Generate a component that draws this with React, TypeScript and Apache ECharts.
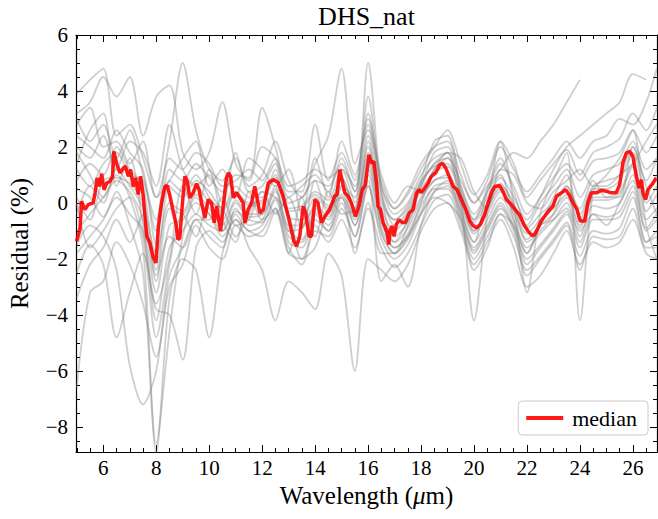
import React, { useEffect, useRef } from 'react';
import * as echarts from 'echarts';

const FONT = '"Liberation Serif", "Times New Roman", "DejaVu Serif", serif';

const TITLE = 'DHS_nat';
const X_MIN = 4.97;
const X_MAX = 26.91;
const Y_MIN = -8.9;
const Y_MAX = 6;
const X_MAJOR = [6, 8, 10, 12, 14, 16, 18, 20, 22, 24, 26];
const X_MINOR = [5, 5.5, 6, 6.5, 7, 7.5, 8, 8.5, 9, 9.5, 10, 10.5, 11, 11.5, 12, 12.5, 13, 13.5, 14, 14.5, 15, 15.5, 16, 16.5, 17, 17.5, 18, 18.5, 19, 19.5, 20, 20.5, 21, 21.5, 22, 22.5, 23, 23.5, 24, 24.5, 25, 25.5, 26, 26.5];
const Y_MAJOR = [-8, -6, -4, -2, 0, 2, 4, 6];
const Y_MINOR = [-8.5, -8, -7.5, -7, -6.5, -6, -5.5, -5, -4.5, -4, -3.5, -3, -2.5, -2, -1.5, -1, -0.5, 0, 0.5, 1, 1.5, 2, 2.5, 3, 3.5, 4, 4.5, 5, 5.5, 6];

// common wavelength grid of the individual residual curves
const GRAY_X = [5, 5.5, 6, 6.5, 7, 7.5, 8, 8.5, 9, 9.5, 10, 10.5, 11, 11.5, 12, 12.5, 13, 13.5, 14, 14.5, 15, 15.5, 16, 16.5, 17, 17.5, 18, 18.5, 19, 19.5, 20, 20.5, 21, 21.5, 22, 22.5, 23, 23.5, 24, 24.5, 25, 25.5, 26, 26.5, 26.9];

const grayA = [-6.6, -3.2, -2.8, -1.4, -2.2, -3.6, -5.5, -3.0, -2.2, -0.8, -1.6, -2.0, -0.8, -1.2, -1.0, -0.2, -1.6, -2.2, -1.0, -1.2, -0.2, -1.2, 0.6, -1.3, -2.0, -1.5, -0.4, 0.4, 0.6, -0.5, -1.7, -0.9, -0.1, -0.9, -2.0, -1.5, -0.9, -0.3, -1.4, -0.4, -0.5, -0.3, 0.6, -0.9, -0.4];
const grayB = [3.9, 4.4, 4.8, 2.4, 2.8, 1.6, 0.2, 2.2, 5.0, 2.6, 1.2, 0.8, 1.6, 0.6, 1.0, 2.2, 0.8, 0.2, 1.4, 2.4, 4.8, 1.4, 2.6, 0.8, -0.2, 0.4, 1.4, 2.0, 2.2, 1.0, 0.0, 0.8, 2.0, 1.2, 0.4, 1.0, 1.6, 2.2, 1.6, 2.2, 2.4, 3.0, 2.8, 3.6, 4.8];
const grayC = [3.2, 3.6, 4.5, 3.8, 4.5, 2.4, 3.8, 4.2, 1.8, 1.2, 1.8, 3.6, 1.4, 0.8, 2.0, 1.6, 0.2, 0.6, 1.0, 0.4, 1.6, 0.4, 3.8, 0.6, -0.4, 0.0, 1.0, 1.6, 1.8, 0.6, -0.4, 0.4, 1.4, 0.6, -0.4, 0.2, 0.9, 1.4, 0.8, 1.5, 1.6, 1.8, 2.6, 1.8, 2.4];
const grayD = [-2.5, -1.5, -2.2, -4.8, -3.2, -1.8, -3.8, -4.0, -5.6, -1.6, -1.0, -1.4, -0.4, -1.0, -0.8, 0.2, -1.4, -1.6, -0.6, -1.0, 0.2, -0.8, 1.0, -0.9, -1.6, -1.1, -0.1, 0.6, 0.7, -0.3, -1.4, -0.6, 0.2, -0.6, -1.6, -1.1, -0.6, 0.0, -1.2, -0.1, -0.2, 0.0, 1.0, -0.6, -0.2];
const grayE = [-1.5, -0.8, -1.2, -2.4, -5.8, -7.2, -6.0, -2.6, -1.6, -0.6, -1.2, -1.6, -0.2, -0.8, -0.6, 0.4, -1.0, -1.3, -0.3, -0.8, 0.3, -0.6, 1.2, -0.7, -1.4, -0.9, 0.1, 0.8, 0.9, -0.1, -1.1, -0.4, 0.4, -0.4, -1.3, -0.8, -0.4, 0.2, -0.9, 0.1, 0.1, 0.3, 1.3, -0.3, 0.3];
const grayF = [0.5, 0.2, -0.5, 0.4, -0.8, -2.5, -8.9, -3.4, -2.0, -2.4, -4.8, -1.8, -0.6, -1.0, -1.2, -0.3, -1.8, -2.0, -0.8, -1.4, -0.6, -1.6, -0.2, -1.6, -2.3, -1.8, -0.8, 0.1, 0.3, -0.8, -2.0, -1.2, -0.4, -1.2, -2.4, -1.9, -1.3, -0.7, -1.9, -1.0, -1.1, -0.9, 0.2, -1.4, -1.0];
const grayG = [1.8, 1.0, 0.2, 1.0, 0.2, -1.6, -8.6, -4.6, -1.2, 0.2, -0.4, -1.0, 0.0, -0.5, -0.4, 0.6, -0.8, -0.8, -0.1, -0.5, 0.6, -0.5, 1.4, -0.5, -1.2, -0.7, 0.2, 0.8, 1.0, 0.0, -1.0, -0.2, 0.5, -0.3, -1.1, -0.6, -0.2, 0.3, -0.8, 0.2, 0.2, 0.4, 1.4, 0.0, 0.6];
const grayH = [2.4, 2.0, 1.6, 2.6, 1.8, 1.2, -1.5, 1.2, 0.8, 1.4, 0.9, 0.4, 1.0, 0.9, 3.4, 2.0, 0.4, 0.4, 2.8, 0.8, 1.8, 0.8, 3.2, 0.6, -0.2, 0.3, 1.2, 2.0, 2.6, 1.4, 0.3, 1.0, 2.2, 1.4, 0.2, 0.8, 1.4, 1.9, 1.0, 1.8, 2.0, 2.3, 3.2, 2.6, 3.4];
const grayI = [-1.0, -0.4, 0.2, 0.8, 0.4, -0.6, -3.2, -0.8, -0.6, 0.0, -0.4, -1.2, -0.6, -1.6, -2.4, -4.2, -2.8, -3.2, -3.8, -1.8, -2.6, -6.0, -2.0, -2.4, -2.8, -2.2, -1.0, -0.2, 0.0, -1.0, -2.2, -1.4, -0.6, -1.6, -3.0, -2.6, -1.8, -1.0, -2.2, -1.4, -1.6, -1.4, -0.6, -1.8, -2.0];
const grayJ = [0.8, 1.4, 1.0, 2.0, 1.2, 0.6, -2.4, 0.6, 0.2, 0.8, 0.4, -0.2, 0.6, 0.2, 0.2, 1.2, -0.2, -0.1, 0.4, 0.1, 1.2, 0.0, 5.0, 0.4, -1.4, -0.6, 0.8, 2.2, 2.4, 0.2, -4.2, -0.4, 2.2, 0.0, -3.2, -0.4, 0.8, 1.8, -4.2, 0.4, 1.0, 1.6, 2.6, -0.8, -2.0];
const grayK = [1.2, 0.6, 1.4, 1.8, 1.0, 0.8, -1.0, 0.8, 0.4, 1.0, 0.2, -0.3, 0.4, 0.0, 0.1, 1.0, -0.3, -0.2, 0.3, -0.1, 0.9, -0.2, 2.0, 0.0, -0.6, -0.2, 0.7, 1.4, 1.6, 0.8, 0.0, 0.6, 1.2, 1.8, 1.6, 2.2, 2.8, 3.6, 4.4, null, null, null, null, null, null];
const grayL = [2.0, 1.6, 2.4, 1.2, 2.2, 1.8, 0.6, 2.8, 1.2, 0.6, 1.0, 0.0, 1.8, 0.4, 0.6, 1.4, 0.0, 0.2, 0.8, 0.6, 1.4, 0.4, 2.4, 0.2, -0.6, -0.1, 0.8, 1.3, 1.4, 0.4, -0.6, 0.2, 0.9, 0.2, -0.6, 0.2, 1.2, 2.0, 2.4, 2.8, 3.2, 3.6, 4.6, 4.4, null];
const grayM = [-0.4, 0.6, 0.0, 1.2, 0.6, -0.2, -2.8, -0.2, -0.4, 0.3, -0.2, -0.8, 0.1, -0.4, -0.4, 0.5, -1.0, -0.9, -0.2, -0.6, 0.5, -0.8, 0.8, -2.8, -2.2, -3.0, -0.8, 0.4, 0.8, -0.4, -1.6, -0.8, 0.0, -0.8, -2.2, -1.6, -1.0, -0.4, -1.6, -0.6, -0.6, -0.5, 0.4, -1.4, -1.2];
const grayN = [0.2, -0.6, 0.8, 0.9, 0.7, 0.0, -1.8, 0.0, -0.3, 0.6, 0.0, -0.6, 0.4, -0.1, 0.0, 0.9, -0.5, -0.6, 0.2, -0.2, 0.9, -0.3, 1.8, -0.2, -1.0, -0.4, 0.5, 1.1, 1.3, 0.3, -0.7, 0.0, 0.7, -0.1, -0.9, -0.4, 0.0, 0.6, -0.4, 0.5, 0.5, 0.8, 1.8, 0.4, 1.0];
const grayO = [3.0, 2.2, 2.8, 1.6, 2.6, 1.0, -0.6, 1.6, 1.2, 1.8, 1.4, 0.6, 0.8, 1.2, 0.8, 1.6, 0.6, 0.8, 1.2, 0.9, 1.2, 0.6, 2.8, 0.4, -0.8, -0.3, 0.6, 1.8, 2.0, 0.6, -0.6, 0.5, 1.6, 0.4, -0.8, 0.0, 0.6, 1.2, 0.2, 1.0, 1.2, 1.4, 2.2, 1.2, 1.6];
const grayP = [-1.8, -1.2, -0.6, 0.2, -0.4, -1.0, -4.2, -1.6, -1.0, -0.4, -0.8, -1.0, -0.3, -0.6, -0.7, 0.1, -1.2, -1.4, -0.4, -1.0, 0.0, -1.2, 0.6, -1.1, -1.8, -1.3, -0.3, 0.5, 0.5, -0.6, -1.8, -1.0, -0.2, -1.0, -2.6, -2.0, -1.4, -0.8, -2.4, -1.2, -1.3, -1.2, -0.2, -1.6, -1.6];
const grayQ = [2.8, 3.4, 2.0, 2.2, 1.4, 2.2, 0.2, 0.8, 1.6, 2.2, 0.6, 1.2, 0.2, 1.6, 1.2, 0.6, 1.2, -0.4, 1.6, 0.2, 2.2, 1.0, 3.0, 1.0, 0.0, 0.6, 0.4, 1.2, 1.8, 1.6, 0.4, -0.2, 1.2, 1.0, 0.0, -0.2, 0.4, 0.8, 1.2, 0.6, 0.6, 1.0, 1.4, 2.2, 2.8];
const grayR = [1.4, 2.6, 3.2, 0.6, 1.6, -0.8, -3.6, -2.0, 0.6, -0.4, 1.2, -0.6, -1.4, 0.4, -0.6, -0.2, -1.8, 0.2, -1.2, 0.4, -0.4, -0.2, 1.6, -0.6, -1.6, -1.2, 0.0, 1.2, 1.6, 0.4, -1.0, -0.2, 0.6, 0.0, -1.4, -1.0, -0.4, 0.6, -0.2, 0.8, 0.2, 0.2, 2.0, 0.6, -0.4];
const grayS = [0.0, -1.6, -1.0, -0.2, 0.2, -1.2, -4.8, -2.2, -0.4, -1.2, 0.0, -0.2, -1.2, -0.4, 0.4, -0.4, 0.2, -0.9, 0.8, -0.4, 0.6, 0.2, 2.2, -1.0, -1.8, -0.8, 0.6, 1.4, 1.8, -0.2, -1.4, 0.4, 1.0, -0.6, -1.8, -0.8, 0.2, 1.0, -0.6, 0.6, 0.8, 1.0, 2.0, 0.8, 1.6];
const grayT = [-3.4, -2.2, -1.6, -0.6, -1.4, -0.4, -2.6, -1.2, -1.6, -0.6, -0.6, 0.2, -0.8, -0.6, 0.4, 0.2, -0.4, -2.0, -1.6, -0.2, 0.2, -1.8, 0.0, -1.8, -1.8, -1.2, -0.4, 0.2, 0.0, -0.6, -2.4, -1.6, -0.4, -0.8, -1.8, -0.8, -0.6, -0.2, -1.0, -0.4, -0.8, 0.0, 0.8, -1.0, -0.6];

const GRAY_LINES = [grayA, grayB, grayC, grayD, grayE, grayF, grayG, grayH, grayI, grayJ, grayK, grayL, grayM, grayN, grayO, grayP, grayQ, grayR, grayS, grayT];

// median residual
const MED_X = [4.99, 5.12, 5.18, 5.31, 5.43, 5.62, 5.69, 5.77, 5.85, 5.94, 6.03, 6.13, 6.25, 6.35, 6.40, 6.50, 6.63, 6.76, 6.84, 6.94, 7.03, 7.13, 7.22, 7.32, 7.41, 7.51, 7.64, 7.76, 7.89, 7.99, 8.08, 8.2, 8.33, 8.42, 8.52, 8.64, 8.74, 8.82, 8.89, 8.98, 9.08, 9.17, 9.27, 9.4, 9.52, 9.62, 9.71, 9.84, 9.96, 10.09, 10.19, 10.28, 10.43, 10.53, 10.65, 10.73, 10.81, 10.91, 11.03, 11.16, 11.28, 11.35, 11.47, 11.6, 11.72, 11.82, 11.91, 12.04, 12.23, 12.42, 12.6, 12.79, 12.92, 13.04, 13.2, 13.3, 13.42, 13.55, 13.64, 13.77, 13.86, 13.99, 14.11, 14.24, 14.37, 14.55, 14.74, 14.83, 14.93, 15.12, 15.25, 15.37, 15.52, 15.65, 15.78, 15.9, 16.03, 16.13, 16.22, 16.32, 16.38, 16.47, 16.57, 16.63, 16.72, 16.78, 16.84, 16.91, 16.98, 17.07, 17.17, 17.3, 17.42, 17.55, 17.7, 17.83, 17.93, 18.01, 18.14, 18.27, 18.39, 18.55, 18.71, 18.81, 18.93, 19.06, 19.21, 19.36, 19.52, 19.69, 19.84, 19.96, 20.09, 20.24, 20.4, 20.53, 20.66, 20.78, 20.97, 21.12, 21.22, 21.41, 21.6, 21.72, 21.88, 22.04, 22.19, 22.29, 22.42, 22.54, 22.71, 22.86, 22.98, 23.11, 23.3, 23.46, 23.59, 23.74, 23.89, 24.01, 24.18, 24.3, 24.43, 24.62, 24.81, 24.99, 25.18, 25.37, 25.5, 25.62, 25.75, 25.88, 26.0, 26.13, 26.23, 26.32, 26.38, 26.48, 26.57, 26.66, 26.76, 26.88];
const MED_Y = [-1.37, -0.95, 0.06, -0.24, -0.06, 0.0, 0.36, 0.89, 0.59, 1.04, 0.47, 0.71, 0.77, 0.95, 1.84, 1.42, 1.07, 1.25, 1.31, 0.95, 1.19, 0.59, 0.89, 0.3, 0.95, 0.24, -1.19, -1.43, -1.96, -2.14, -0.83, 0.0, 0.59, 0.62, 0.24, -0.3, -0.71, -1.31, -1.25, -0.12, 0.95, 0.77, 0.18, 0.36, 0.69, 0.47, 0.0, -0.54, 0.12, 0.0, -0.71, -0.12, -1.01, -0.12, 0.89, 1.07, 0.95, 0.18, 0.36, 0.18, 0.0, -0.71, -0.24, 0.0, 0.59, 0.12, -0.36, -0.24, 0.71, 0.83, 0.73, 0.24, -0.24, -0.71, -1.37, -1.55, -1.19, -0.12, -0.36, -1.19, -1.19, 0.12, 0.0, -0.71, -0.48, -0.24, 0.24, 0.3, 1.19, 0.36, 0.24, 0.0, -0.48, -0.12, 0.47, 0.65, 1.72, 1.42, 1.48, 0.71, -0.12, -0.24, -0.71, -0.83, -1.07, -1.49, -0.95, -0.83, -1.19, -0.77, -0.6, -0.71, -0.69, -0.36, -0.24, 0.36, 0.47, 0.36, 0.53, 0.71, 0.95, 1.07, 1.36, 1.42, 1.25, 0.95, 0.59, 0.47, 0.12, -0.24, -0.65, -0.81, -0.89, -0.77, -0.42, 0.0, 0.36, 0.59, 0.62, 0.36, 0.12, -0.06, -0.3, -0.42, -0.77, -1.01, -1.17, -1.13, -0.89, -0.65, -0.42, -0.24, -0.12, 0.24, 0.36, 0.47, 0.3, 0.0, -0.24, -0.65, -0.65, 0.0, 0.36, 0.36, 0.45, 0.42, 0.36, 0.36, 0.65, 1.42, 1.78, 1.84, 1.66, 0.95, 0.53, 0.83, 0.36, 0.12, 0.47, 0.59, 0.71, 0.89];

const fmt = (v: number) => (v < 0 ? '\u2212' + Math.abs(v) : String(v));

function xAxisDef(position: 'bottom' | 'top', major: boolean, labels: boolean) {
  return {
    type: 'value',
    position,
    min: X_MIN,
    max: X_MAX,
    axisLine: { show: major, onZero: false, lineStyle: { color: '#000', width: 1.2 } },
    axisTick: {
      show: true,
      inside: true,
      length: major ? 7 : 4,
      customValues: major ? X_MAJOR : X_MINOR,
      lineStyle: { color: '#000', width: 1 },
    },
    axisLabel: {
      show: labels,
      customValues: X_MAJOR,
      formatter: fmt,
      color: '#000',
      fontFamily: FONT,
      fontSize: 21,
      margin: 5,
    },
    splitLine: { show: false },
    ...(labels
      ? {
          name: '{a|Wavelength (}{b|\u03bc}{a|m)}',
          nameLocation: 'middle',
          nameGap: 22,
          nameTextStyle: {
            verticalAlign: 'top',
            rich: {
              a: { fontFamily: FONT, fontSize: 25, color: '#000' },
              b: { fontFamily: FONT, fontSize: 25, color: '#000', fontStyle: 'italic' },
            },
          },
        }
      : {}),
  };
}

function yAxisDef(position: 'left' | 'right', major: boolean, labels: boolean) {
  return {
    type: 'value',
    position,
    min: Y_MIN,
    max: Y_MAX,
    axisLine: { show: major, onZero: false, lineStyle: { color: '#000', width: 1.2 } },
    axisTick: {
      show: true,
      inside: true,
      length: major ? 7 : 4,
      customValues: major ? Y_MAJOR : Y_MINOR,
      lineStyle: { color: '#000', width: 1 },
    },
    axisLabel: {
      show: labels,
      customValues: Y_MAJOR,
      formatter: fmt,
      color: '#000',
      fontFamily: FONT,
      fontSize: 21,
      margin: 8,
    },
    splitLine: { show: false },
    ...(labels
      ? {
          name: 'Residual (%)',
          nameLocation: 'middle',
          nameGap: 44,
          nameTextStyle: { fontFamily: FONT, fontSize: 25, color: '#000' },
        }
      : {}),
  };
}

export default function App() {
  const ref = useRef<HTMLDivElement>(null);
  useEffect(() => {
    if (!ref.current) return;
    const chart = echarts.init(ref.current, undefined, { renderer: 'svg' });
    const graySeries = GRAY_LINES.map((ys, i) => ({
      type: 'line',
      name: 'curve' + i,
      data: GRAY_X.map((x, j) => [x, ys[j]]).filter((p) => p[1] !== null),
      xAxisIndex: 0,
      yAxisIndex: 0,
      symbol: 'none',
      showSymbol: false,
      silent: true,
      smooth: 0.3,
      lineStyle: { color: 'rgba(128,128,128,0.38)', width: 1.8 },
      z: 2,
    }));
    const option = {
      animation: false,
      backgroundColor: '#fff',
      grid: { left: 76, right: 1, top: 35, bottom: 67, containLabel: false, outerBoundsMode: 'none' },
      graphic: [
        {
          type: 'text',
          x: 366.5,
          y: 16,
          style: {
            text: TITLE,
            fill: '#000',
            font: `26px ${FONT}`,
            textAlign: 'center',
            textVerticalAlign: 'middle',
          },
        },
      ],
      legend: {
        data: ['median'],
        right: 10,
        top: 401,
        icon: 'rect',
        itemWidth: 37,
        itemHeight: 4,
        padding: [6, 11, 6, 8],
        borderColor: '#cccccc',
        borderWidth: 1,
        borderRadius: 4,
        backgroundColor: 'rgba(255,255,255,0.8)',
        textStyle: { fontFamily: FONT, fontSize: 22, color: '#000', padding: [0, 0, 0, 4] },
      },
      xAxis: [
        xAxisDef('bottom', true, true),
        xAxisDef('bottom', false, false),
        xAxisDef('top', true, false),
        xAxisDef('top', false, false),
      ],
      yAxis: [
        yAxisDef('left', true, true),
        yAxisDef('left', false, false),
        yAxisDef('right', true, false),
        yAxisDef('right', false, false),
      ],
      series: [
        ...graySeries,
        {
          type: 'line',
          name: 'median',
          data: MED_X.map((x, i) => [x, MED_Y[i]]),
          xAxisIndex: 0,
          yAxisIndex: 0,
          symbol: 'none',
          showSymbol: false,
          lineStyle: { color: 'rgba(255,0,0,0.9)', width: 3.5 },
          itemStyle: { color: 'rgba(255,0,0,0.9)' },
          z: 3,
        },
      ],
    };
    chart.setOption(option as any);
    return () => chart.dispose();
  }, []);
  return (
    <div
      ref={ref}
      style={{ position: 'fixed', left: 0, top: 0, width: 658, height: 519, background: '#fff' }}
    />
  );
}
